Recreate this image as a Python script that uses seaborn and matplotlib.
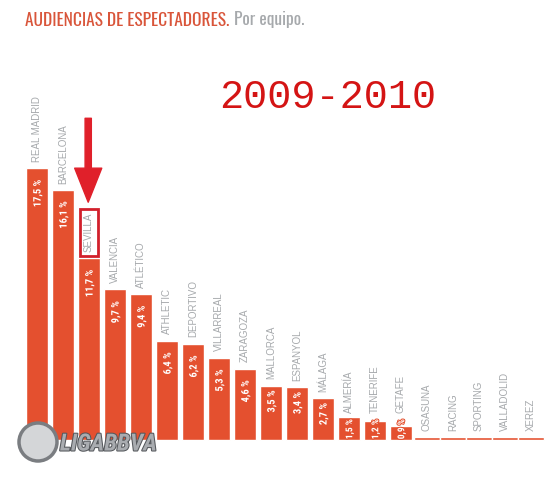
import matplotlib
matplotlib.use("Agg")
import matplotlib.pyplot as plt
import matplotlib.patches as mpatches
import matplotlib.patheffects as pe
from matplotlib.transforms import IdentityTransform
import pandas as pd
import seaborn as sns

# datos 2009-2010: audiencia por equipo (%)
teams = ["REAL MADRID", "BARCELONA", "SEVILLA", "VALENCIA", "ATLÉTICO",
         "ATHLETIC", "DEPORTIVO", "VILLARREAL", "ZARAGOZA", "MALLORCA",
         "ESPANYOL", "MÁLAGA", "ALMERÍA", "TENERIFE", "GETAFE",
         "OSASUNA", "RACING", "SPORTING", "VALLADOLID", "XEREZ"]
share = [17.5, 16.1, 11.7, 9.7, 9.4, 6.4, 6.2, 5.3, 4.6, 3.5,
         3.4, 2.7, 1.5, 1.2, 0.9, 0.2, 0.2, 0.2, 0.2, 0.2]
share_labels = ["17,5 %", "16,1 %", "11,7 %", "9,7 %", "9,4 %", "6,4 %",
                "6,2 %", "5,3 %", "4,6 %", "3,5 %", "3,4 %", "2,7 %",
                "1,5 %", "1,2 %", "0,9 %", "", "", "", "", ""]
highlight = "SEVILLA"

df = pd.DataFrame({"team": teams, "share": share})

sns.set_style("white")
plt.rcParams["font.family"] = ["Liberation Sans", "DejaVu Sans"]

BAR = "#e4502f"
GREY = "#a6a9ac"
cond = ["Roboto Condensed", "Liberation Sans", "DejaVu Sans"]
title_font = ["Oswald", "Roboto Condensed", "DejaVu Sans"]

fig = plt.figure(figsize=(5.45, 4.8), dpi=100)
ax = fig.add_axes([0, 0, 1, 1])
sns.barplot(data=df, x="team", y="share", color=BAR, width=0.85,
            saturation=1, ax=ax)

# equipos sin dato: una linea continua
for i, p in enumerate(ax.patches):
    if share_labels[i] == "":
        p.set_x(i - 0.5)
        p.set_width(1.0)

ax.set_xlim(-1.423, 19.54)
ax.set_ylim(-2.574, 28.31)
ax.axis("off")

for i, (t, v, lab) in enumerate(zip(teams, share, share_labels)):
    kw = {}
    if t == highlight:
        kw["bbox"] = dict(boxstyle="square,pad=0.4", fc="white",
                          ec="#d2202c", lw=2)
    name_y = v + 0.4 if (v >= 2 or not lab) else 1.75
    ax.text(i, name_y, t, rotation=90, ha="center", va="bottom",
            fontsize=7, color=GREY, **kw)
    if lab:
        if v >= 4:
            y, va, fs = v - 0.75, "top", 7.5
        elif v >= 2:
            y, va, fs = v - 0.3, "top", 7.5
        else:
            y, va, fs = 0.05, "bottom", 6.8
        ax.text(i + 0.03, y, lab, rotation=90, ha="center", va=va,
                fontsize=fs, color="white", fontweight="bold", family=cond,
                path_effects=[pe.withStroke(linewidth=1.5, foreground=BAR)])

# flecha roja sobre SEVILLA
ax.annotate("", xy=(1.97, 15.3), xytext=(1.97, 20.7),
            arrowprops=dict(arrowstyle="simple,head_length=2.45,head_width=1.95,tail_width=0.45",
                            mutation_scale=10, color="#e0202a",
                            shrinkA=0, shrinkB=0))

# titulo
t1 = fig.text(25 / 545, 1 - 20 / 480, "AUDIENCIAS DE ESPECTADORES.",
              color="#d9553a", fontsize=12.5, fontweight="bold",
              family=title_font, va="center", ha="left")
fig.canvas.draw()
bb = t1.get_window_extent()
fig.text((bb.x1 + 5) / 545, 1 - 20 / 480, "Por equipo.", color=GREY,
         fontsize=12.5, family=title_font, va="center", ha="left")

fig.text(328 / 545, 1 - 97 / 480, "2009-2010", color="#d41414",
         fontsize=29, family=["Liberation Mono", "DejaVu Sans Mono"],
         ha="center", va="center")

# logo LIGA BBVA
ball = mpatches.Circle((38, 480 - 442), 19, transform=IdentityTransform(),
                       fc="#d4d6d8", ec="#7a7d81", lw=2.5, zorder=5)
fig.patches.append(ball)
fig.text(60 / 545, 1 - 444 / 480, "LIGABBVA", color="#a9acb0", fontsize=17,
         fontweight="bold", style="italic", family=cond, va="center",
         ha="left", zorder=6,
         path_effects=[pe.withStroke(linewidth=1.5, foreground="#55585c")])

fig.savefig("out.png", dpi=100)
